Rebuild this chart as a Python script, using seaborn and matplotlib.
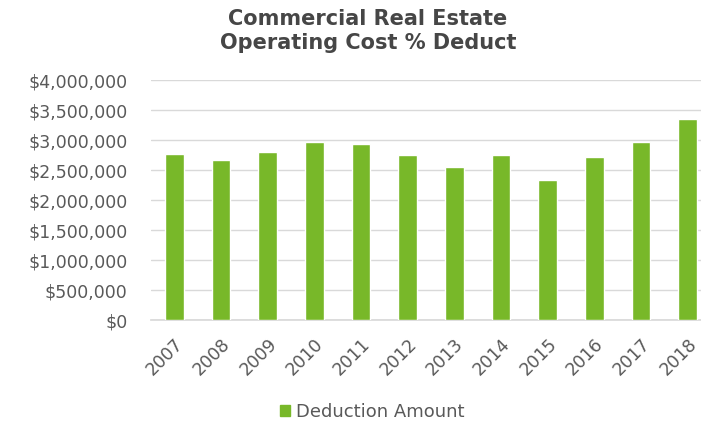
import matplotlib
matplotlib.use("Agg")
import matplotlib.pyplot as plt
import seaborn as sns
import pandas as pd
from matplotlib.ticker import FuncFormatter, MultipleLocator
from matplotlib.patches import Patch

years = ["2007", "2008", "2009", "2010", "2011", "2012",
         "2013", "2014", "2015", "2016", "2017", "2018"]
deduction = [2760000, 2670000, 2800000, 2975000, 2930000, 2750000,
             2550000, 2750000, 2330000, 2710000, 2970000, 3350000]

BAR_COLOR = "#78b829"
TEXT_COLOR = "#595959"
TITLE_COLOR = "#464646"

df = pd.DataFrame({"year": years, "amount": deduction})

sns.set_theme(style="white")
plt.rcParams["font.family"] = ["DejaVu Sans"]

fig = plt.figure(figsize=(7.01, 4.26), dpi=100)
# plot area runs past the right edge, the reference is cropped there
ax = fig.add_axes([151 / 701, 1 - 320 / 426, 560 / 701, 240 / 426])

sns.barplot(data=df, x="year", y="amount", color=BAR_COLOR, width=0.4,
            saturation=1, ax=ax, zorder=3)

ax.set_ylim(0, 4000000)
ax.yaxis.set_major_locator(MultipleLocator(500000))
ax.yaxis.set_major_formatter(FuncFormatter(lambda v, p: f"${v:,.0f}"))
ax.grid(axis="y", color="#d9d9d9", linewidth=1, zorder=0)
ax.set_xlim(-0.5, len(years) - 0.5)

for s in ["top", "right", "left"]:
    ax.spines[s].set_visible(False)
ax.spines["bottom"].set_color("#d9d9d9")

ax.set_xlabel("")
ax.set_ylabel("")
ax.tick_params(axis="y", labelsize=12.5, labelcolor=TEXT_COLOR, length=0, pad=17)
ax.tick_params(axis="x", labelsize=12.5, labelcolor=TEXT_COLOR, length=0, pad=11)
plt.setp(ax.get_xticklabels(), rotation=45, ha="right", rotation_mode="anchor")

fig.text(368 / 701, 1 - 31 / 426, "Commercial Real Estate\nOperating Cost % Deduct",
         ha="center", va="center", fontsize=15, fontweight="bold",
         color=TITLE_COLOR, linespacing=1.25)

fig.legend(handles=[Patch(color=BAR_COLOR, label="Deduction Amount")],
           loc="center", bbox_to_anchor=(372 / 701, 1 - 412 / 426),
           frameon=False, fontsize=13, labelcolor=TEXT_COLOR,
           handlelength=0.55, handleheight=0.55, handletextpad=0.35)

fig.savefig("out.png", dpi=100)
